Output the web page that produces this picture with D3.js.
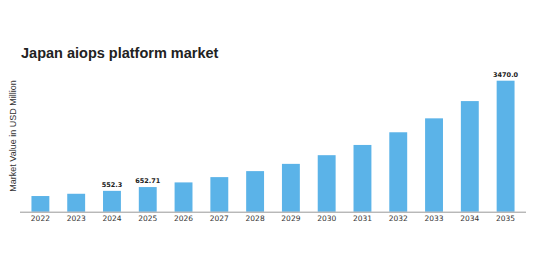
<!DOCTYPE html>
<html>
<head>
<meta charset="utf-8">
<script src="https://cdn.jsdelivr.net/npm/d3@7"></script>
<style>
  body { margin: 0; background: #fff; }
</style>
</head>
<body>
<div id="chart"></div>
<script>
// chart data
var years = ["2022", "2023", "2024", "2025", "2026", "2027", "2028", "2029", "2030", "2031", "2032", "2033", "2034", "2035"];
var values = [415, 475, 552.3, 652.71, 776, 916, 1075, 1267, 1497, 1768, 2104, 2473, 2930, 3470.0];
var labelled = ["2024", "2025", "2035"];
var labelText = ["552.3", "652.71", "3470.0"];

var width = 535
height = 256

var svg = d3.select("#chart")
    .append("svg")
    .attr("width", width)
    .attr("height", height)

// title
svg.append("text")
    .attr("x", 21)
    .attr("y", 58)
    .text("Japan aiops platform market")
    .style("font-family", "Liberation Sans, Arial, sans-serif")
    .style("font-weight", "bold")
    .style("font-size", "14.5px")
    .style("fill", "#222")

var x = d3.scaleBand()
    .domain(years)
    .range([20, 526])
    .paddingInner(0.5)
    .paddingOuter(0.32)

var y = d3.scaleLinear()
    .domain([0, 3470])
    .range([211.7, 80.7])

// bars
svg.selectAll("rect.bar")
    .data(values)
    .enter()
    .append("rect")
    .attr("class", "bar")
    .attr("x", function (d, i) { return x(years[i]) })
    .attr("y", function (d) { return y(d) })
    .attr("width", x.bandwidth())
    .attr("height", function (d) { return y(0) - y(d) })
    .attr("fill", "#5bb3e8")

// x axis
var xAxis = svg.append("g")
    .attr("transform", "translate(0," + y(0) + ")")
    .call(d3.axisBottom(x).tickSize(0).tickPadding(4))
xAxis.select(".domain")
    .attr("stroke", "#999")
    .attr("d", "M20,0.5H526")
xAxis.selectAll("text")
    .style("font-family", "DejaVu Sans, sans-serif")
    .style("font-size", "7.5px")
    .style("fill", "#333")

// value labels
svg.selectAll("text.val")
    .data(labelled)
    .enter()
    .append("text")
    .attr("class", "val")
    .attr("x", function (d) { return x(d) + x.bandwidth() / 2 })
    .attr("y", function (d) { return y(values[years.indexOf(d)]) - 4 })
    .attr("text-anchor", "middle")
    .text(function (d, i) { return labelText[i] })
    .style("font-family", "DejaVu Sans, sans-serif")
    .style("font-weight", "bold")
    .style("font-size", "6.5px")
    .style("fill", "#222")

// y axis label
svg.append("text")
    .attr("transform", "translate(16,136) rotate(-90)")
    .attr("text-anchor", "middle")
    .text("Market Value in USD Million")
    .style("font-family", "Liberation Sans, Arial, sans-serif")
    .style("font-size", "9px")
    .style("fill", "#333")
</script>
</body>
</html>
